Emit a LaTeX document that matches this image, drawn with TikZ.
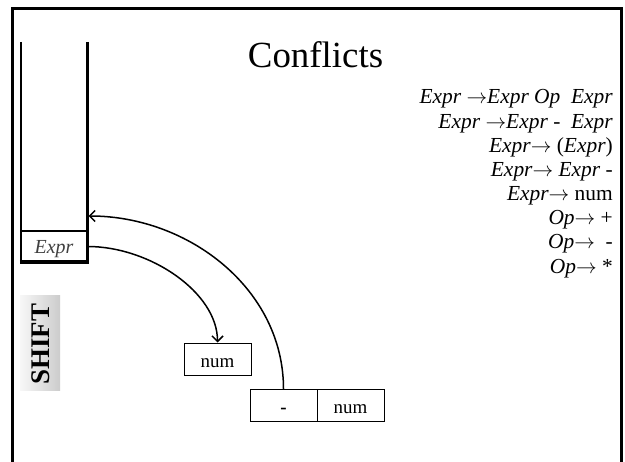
\documentclass[tikz,border=0pt]{standalone}
\usepackage{fontspec}
\setmainfont{Liberation Serif}
\usetikzlibrary{arrows.meta}
\begin{document}
\begin{tikzpicture}[x=1bp,y=-1bp,
  frameline/.style={line width=3.5bp},
  stackline/.style={line width=2.2bp},
  cellbox/.style={draw, line width=1bp, minimum height=32bp, minimum width=67bp, inner sep=0pt,
    text height=16bp, text depth=0bp, font=\fontsize{19}{19}\selectfont},
  rulett/.style={anchor=base east, inner sep=0pt, font=\fontsize{21.5}{21.5}\selectfont},
  conn/.style={line width=1.5bp, -{Straight Barb[length=5.5bp,width=11bp]}}
]
\useasboundingbox[fill=white] (0,0) rectangle (625,462);
% slide frame
\draw[line width=2.5bp] (11,8.7) -- (623,8.7);
\draw[frameline] (12.5,7.5) -- (12.5,462);
\draw[frameline] (621.5,7.5) -- (621.5,462);
% title
\node (title) [anchor=base, inner sep=0pt, font=\fontsize{37}{37}\selectfont] at (315.5,68) {Conflicts};
% rules
\node (r1) [rulett] at (613,104) {\textit{Expr} $\rightarrow$\textit{Expr Op}\ \ \textit{Expr}};
\node (r2) [rulett] at (613,129) {\textit{Expr} $\rightarrow$\textit{Expr} -\ \ \textit{Expr}};
\node (r3) [rulett] at (613,153) {\textit{Expr}$\rightarrow$ (\textit{Expr})};
\node (r4) [rulett] at (613,177) {\textit{Expr}$\rightarrow$\ \textit{Expr} -};
\node (r5) [rulett] at (613,201) {\textit{Expr}$\rightarrow$\ num};
\node (r6) [rulett] at (613,225) {\textit{Op}$\rightarrow$\ +};
\node (r7) [rulett] at (613,249) {\textit{Op}$\rightarrow$\ \ -};
\node (r8) [rulett] at (613,274) {\textit{Op}$\rightarrow$\ *};
% stack
\node (exprcell) [draw, line width=1.5bp, minimum width=66bp, minimum height=31bp, inner sep=0pt,
  text height=15bp, text depth=0bp, text=black!75, font=\fontsize{20}{20}\itshape] at (54,246.5) {Expr};
\draw[stackline] (21,42) -- (21,263.5);
\draw[stackline] (87.5,42) -- (87.5,263.5);
\draw[line width=3.5bp] (19.9,262) -- (88.6,262);
\coordinate (stackpt) at (88.6,216);
% SHIFT label
\shade[left color=gray!6, right color=gray!40] (20,295) rectangle (60,390);
\node (shift) [rotate=90, inner sep=0pt, font=\fontsize{27}{27}\bfseries] at (41,344) {SHIFT};
% input boxes
\node (num) [cellbox] at (217.5,359) {num};
\node (minus) [cellbox, font=\fontsize{19}{19}\bfseries] at (283.5,405.5) {-};
\node (num2) [cellbox] at (350.5,405.5) {num};
% connectors
\draw[conn] (exprcell.east) .. controls +(62,0) and +(0,-50) .. (num.north);
\draw[conn] (minus.north) .. controls +(0,-100) and +(100,0) .. (stackpt);
\end{tikzpicture}
\end{document}
